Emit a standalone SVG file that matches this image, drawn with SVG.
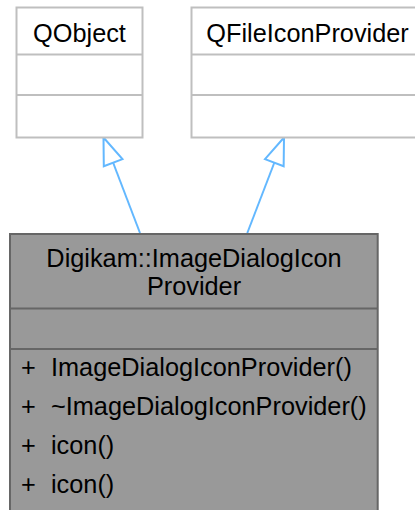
<svg xmlns="http://www.w3.org/2000/svg" width="415" height="510" viewBox="0 0 415 510">
<style>
text{font-family:"Liberation Sans",Arial,sans-serif;font-size:25.3px;fill:#000}
.base{fill:#fff;stroke:#bfbfbf;stroke-width:2}
.main{fill:#999;stroke:#666;stroke-width:2}
.sepb{stroke:#bfbfbf;stroke-width:2}
.sepm{stroke:#666;stroke-width:2}
.edge{fill:none;stroke:#63b8ff;stroke-width:2}
.c{text-anchor:middle}
</style>
<defs>
<marker id="inh" markerUnits="userSpaceOnUse" markerWidth="32" markerHeight="24" refX="28" refY="11" orient="auto" overflow="visible">
<path d="M1,1 L28,11 L1,21 Z" fill="#fff" stroke="#63b8ff" stroke-width="2"/>
</marker>
</defs>
<g id="edges">
<path class="edge" d="M140,233 L103.5,137.5" marker-end="url(#inh)"/>
<path class="edge" d="M247.3,233 L284,137.5" marker-end="url(#inh)"/>
</g>
<g id="QObject">
<rect class="base" x="16.5" y="7.5" width="126" height="130"/>
<line class="sepb" x1="16.5" y1="54.5" x2="142.5" y2="54.5"/>
<line class="sepb" x1="16.5" y1="95" x2="142.5" y2="95"/>
<text class="c" x="79.5" y="42">QObject</text>
</g>
<g id="QFileIconProvider">
<rect class="base" x="191.5" y="7.5" width="232" height="130"/>
<line class="sepb" x1="191.5" y1="54.5" x2="423.5" y2="54.5"/>
<line class="sepb" x1="191.5" y1="95" x2="423.5" y2="95"/>
<text class="c" x="307.5" y="42">QFileIconProvider</text>
</g>
<g id="ImageDialogIconProvider">
<rect class="main" x="10" y="234" width="367.7" height="290"/>
<line class="sepm" x1="10" y1="308.5" x2="377.7" y2="308.5"/>
<line class="sepm" x1="10" y1="349" x2="377.7" y2="349"/>
<text class="c" x="194" y="267">Digikam::ImageDialogIcon</text>
<text class="c" x="194" y="295">Provider</text>
<text x="21" y="376">+</text><text x="51" y="376">ImageDialogIconProvider()</text>
<text x="21" y="415">+</text><text x="51" y="415">~ImageDialogIconProvider()</text>
<text x="21" y="454">+</text><text x="51" y="454">icon()</text>
<text x="21" y="493">+</text><text x="51" y="493">icon()</text>
</g>
</svg>
